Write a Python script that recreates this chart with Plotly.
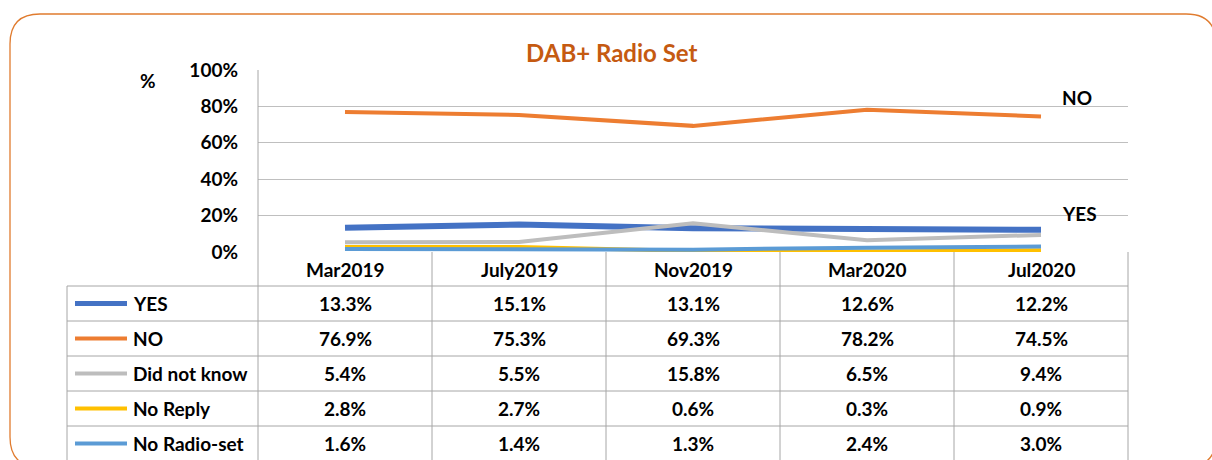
import plotly.graph_objects as go

# ---------------- data ----------------
categories = ["Mar2019", "July2019", "Nov2019", "Mar2020", "Jul2020"]
series_names = ["YES", "NO", "Did not know", "No Reply", "No Radio-set"]
yes_vals = [13.3, 15.1, 13.1, 12.6, 12.2]
no_vals = [76.9, 75.3, 69.3, 78.2, 74.5]
dnk_vals = [5.4, 5.5, 15.8, 6.5, 9.4]
noreply_vals = [2.8, 2.7, 0.6, 0.3, 0.9]
noradio_vals = [1.6, 1.4, 1.3, 2.4, 3.0]
y_ticks = [0, 20, 40, 60, 80, 100]
title_text = "DAB+ Radio Set"

series_values = [yes_vals, no_vals, dnk_vals, noreply_vals, noradio_vals]
colors = ["#4472C4", "#ED7D31", "#BDBDBD", "#FFC000", "#5B9BD5"]
widths = [6, 4, 4, 4, 4]

W, H = 1212, 460
FONT = "Lato"


def X(px):
    return px / W


def Y(py):
    return 1 - py / H


plot_l, plot_r, plot_t, plot_b = 258, 1128, 70, 252
x_idx = list(range(len(categories)))

fig = go.Figure()
for name, vals, c, w in zip(series_names, series_values, colors, widths):
    fig.add_trace(go.Scatter(x=x_idx, y=vals, mode="lines", name=name,
                             line=dict(color=c, width=w), hoverinfo="skip",
                             showlegend=False))

shapes = []
annotations = []
grid_c = "#BFBFBF"
tab_c = "#A6A6A6"

# rounded frame
R = 30
fl, fr, ft, fb = 10, 1216, 14, 467
path = (f"M {X(fl+R)},{Y(ft)} L {X(fr-R)},{Y(ft)} Q {X(fr)},{Y(ft)} {X(fr)},{Y(ft+R)} "
        f"L {X(fr)},{Y(fb-R)} Q {X(fr)},{Y(fb)} {X(fr-R)},{Y(fb)} "
        f"L {X(fl+R)},{Y(fb)} Q {X(fl)},{Y(fb)} {X(fl)},{Y(fb-R)} "
        f"L {X(fl)},{Y(ft+R)} Q {X(fl)},{Y(ft)} {X(fl+R)},{Y(ft)} Z")
shapes.append(dict(type="path", xref="paper", yref="paper", path=path,
                   line=dict(color="#E07B2E", width=1.3), layer="below"))

# table geometry
row_h = 35
header_bot = 286
table_bot = header_bot + row_h * len(series_names)
leg_l = 67
col_edges = [plot_l + i * (plot_r - plot_l) / len(categories) for i in range(len(categories) + 1)]

# horizontal lines
for i in range(len(series_names) + 1):
    yy = header_bot + i * row_h
    shapes.append(dict(type="line", xref="paper", yref="paper",
                       x0=X(leg_l), x1=X(plot_r), y0=Y(yy), y1=Y(yy),
                       line=dict(color=tab_c, width=1)))
# vertical lines
shapes.append(dict(type="line", xref="paper", yref="paper", x0=X(leg_l), x1=X(leg_l),
                   y0=Y(header_bot), y1=Y(table_bot), line=dict(color=tab_c, width=1)))
shapes.append(dict(type="line", xref="paper", yref="paper", x0=X(plot_l), x1=X(plot_l),
                   y0=Y(plot_t), y1=Y(table_bot), line=dict(color=tab_c, width=1)))
for xe in col_edges[1:]:
    shapes.append(dict(type="line", xref="paper", yref="paper", x0=X(xe), x1=X(xe),
                       y0=Y(plot_b), y1=Y(table_bot), line=dict(color=tab_c, width=1)))

bold = dict(family=FONT, size=19, color="#000000", weight="bold")

# header row
for i, cat in enumerate(categories):
    annotations.append(dict(x=i, xref="x", y=Y((plot_b + header_bot) / 2), yref="paper",
                            text=cat, showarrow=False, font=bold,
                            xanchor="center", yanchor="middle"))

# table rows
for r, (name, vals, c, w) in enumerate(zip(series_names, series_values, colors, widths)):
    yc = header_bot + row_h * r + row_h / 2
    shapes.append(dict(type="line", xref="paper", yref="paper", x0=X(75), x1=X(127),
                       y0=Y(yc), y1=Y(yc), line=dict(color=c, width=5 if w > 4 else 4)))
    annotations.append(dict(x=X(131), xref="paper", y=Y(yc), yref="paper", text=name,
                            showarrow=False, font=bold, xanchor="left", yanchor="middle"))
    for i, v in enumerate(vals):
        annotations.append(dict(x=i, xref="x", y=Y(yc), yref="paper", text=f"{v:.1f}%",
                                showarrow=False, font=bold, xanchor="center",
                                yanchor="middle"))

# series end labels
annotations.append(dict(x=X(1077), xref="paper", y=Y(97), yref="paper", text="NO",
                        showarrow=False, font=bold, xanchor="center", yanchor="middle"))
annotations.append(dict(x=X(1079), xref="paper", y=Y(213), yref="paper", text="YES",
                        showarrow=False, font=bold, xanchor="center", yanchor="middle"))
# axis unit label
annotations.append(dict(x=X(148), xref="paper", y=Y(80), yref="paper", text="%",
                        showarrow=False, font=bold, xanchor="center", yanchor="middle"))
# title
annotations.append(dict(x=X(612), xref="paper", y=Y(52), yref="paper", text=title_text,
                        showarrow=False,
                        font=dict(family=FONT, size=24, color="#C55A11", weight="bold"),
                        xanchor="center", yanchor="middle"))

fig.update_layout(
    width=W, height=H,
    margin=dict(l=0, r=0, t=0, b=0, pad=0, autoexpand=False),
    paper_bgcolor="white", plot_bgcolor="white",
    xaxis=dict(domain=[X(plot_l), X(plot_r)], range=[-0.5, len(categories) - 0.5],
               showgrid=False, showticklabels=False, zeroline=False, showline=False,
               fixedrange=True, automargin=False),
    yaxis=dict(domain=[Y(plot_b), Y(plot_t)], range=[0, 100], tickvals=y_ticks,
               ticktext=[f"{t}%" for t in y_ticks], showgrid=True, gridcolor=grid_c,
               gridwidth=1, zeroline=False, showline=False, ticks="",
               tickfont=bold, ticklabelstandoff=19, fixedrange=True, automargin=False),
    shapes=shapes,
    annotations=annotations,
)

post = ("document.documentElement.style.margin='0';"
        "document.body.style.margin='0';document.body.style.padding='0';"
        "document.body.style.overflow='hidden';")

fig.write_html("out.html", post_script=post, config={"displayModeBar": False})
